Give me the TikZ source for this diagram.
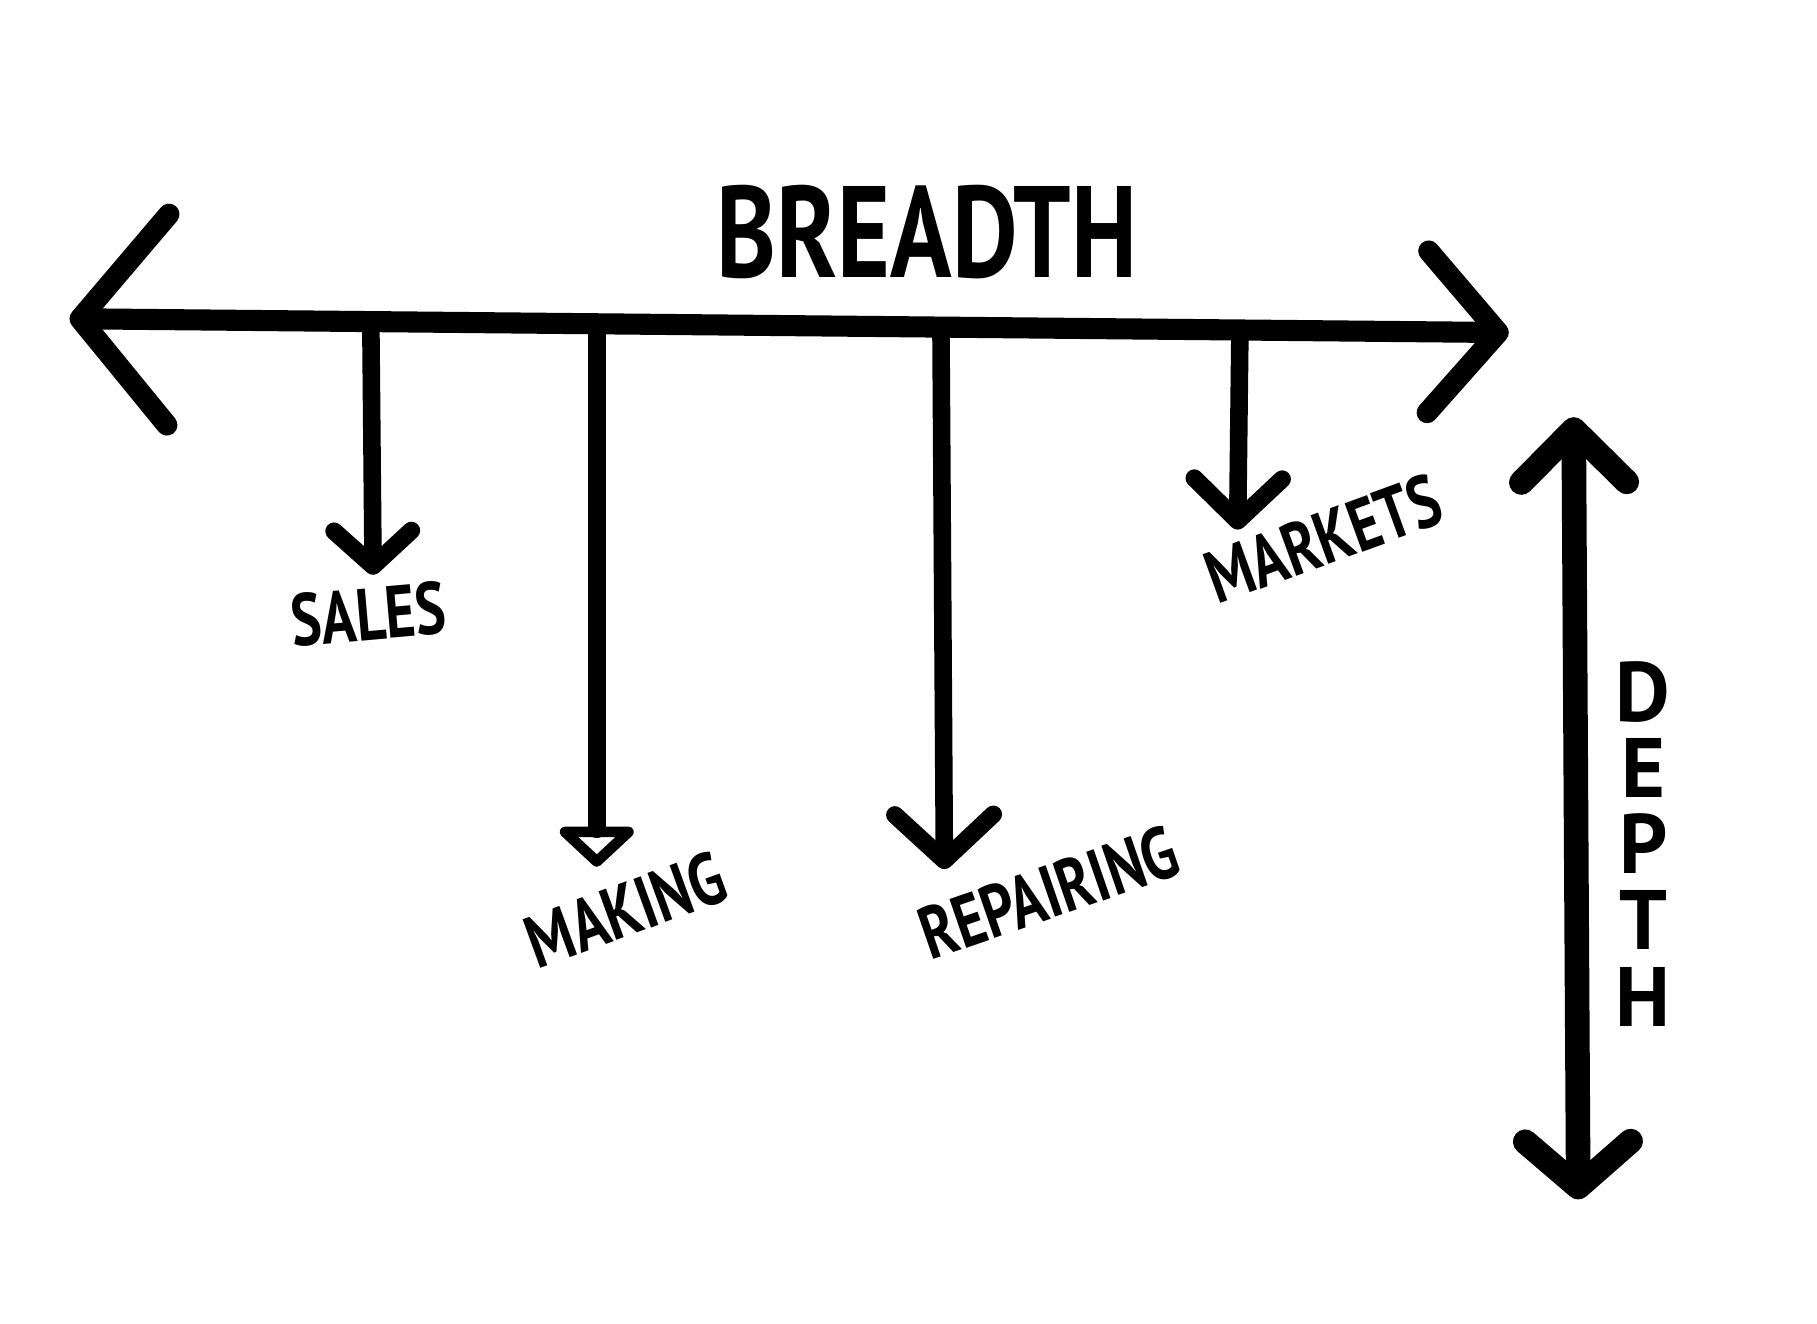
\documentclass[tikz,border=0pt]{standalone}
\usepackage{fontspec}
\newfontfamily\handfont{PT Sans}
\usepackage{tikz}
\usetikzlibrary{arrows.meta}
\newcommand{\squeeze}[1]{\scalebox{0.78}[1]{#1}}

\begin{document}
\begin{tikzpicture}[
    x=0.11588mm, y=-0.11588mm,
    axis/.style={line width=6pt, line cap=round},
    branch/.style={line width=5pt, line cap=round,
                   -{Straight Barb[length=10pt, width=22pt, round]}},
    tag/.style={font=\handfont\bfseries\fontsize{21}{21}\selectfont, inner sep=0pt}
]
    \useasboundingbox (0,0) rectangle (1568,1142);

    % breadth axis
    \coordinate (west) at (60,275);
    \coordinate (east) at (1302,287);
    \draw[axis, {Straight Barb[length=25pt, width=60pt, round]}-{Straight Barb[length=20pt, width=46pt, round]}]
        (west) -- (east);
    \node[tag, font=\handfont\bfseries\fontsize{37}{37}\selectfont] (breadth) at (800,200) {\squeeze{BREADTH}};

    % branches hanging from the axis
    \coordinate (salesTop) at (320,279);
    \coordinate (salesTip) at (322,496);
    \coordinate (makingTop) at (515,282);
    \coordinate (makingTip) at (515,748);
    \coordinate (repairTop) at (812,284);
    \coordinate (repairTip) at (815,750);
    \coordinate (marketTop) at (1070,286);
    \coordinate (marketTip) at (1068,457);

    \draw[branch] (salesTop) -- (salesTip);
    \draw[branch, -{Triangle[open, length=12pt, width=25pt, round]}] (makingTop) -- (makingTip);
    \draw[branch, -{Straight Barb[length=13pt, width=28pt, round]}] (repairTop) -- (repairTip);
    \draw[branch, -{Straight Barb[length=12pt, width=25pt, round]}] (marketTop) -- (marketTip);

    \node[tag, rotate=5] (sales) at (318,530) {\squeeze{SALES}};
    \node[tag, rotate=20] (making) at (540,785) {\squeeze{MAKING}};
    \node[tag, rotate=19] (repairing) at (905,770) {\squeeze{REPAIRING}};
    \node[tag, rotate=20] (markets) at (1142,465) {\squeeze{MARKETS}};

    % depth axis
    \coordinate (top) at (1358,360);
    \coordinate (bottom) at (1362,1035);
    \draw[axis, line width=7pt, {Straight Barb[length=15pt, width=30pt, round]}-{Straight Barb[length=13pt, width=30pt, round]}]
        (top) -- (bottom);
    \node[tag, font=\handfont\bfseries\fontsize{24}{21.7}\selectfont, align=center] (depth) at (1418,728)
        {D\\E\\P\\T\\H};
\end{tikzpicture}
\end{document}
